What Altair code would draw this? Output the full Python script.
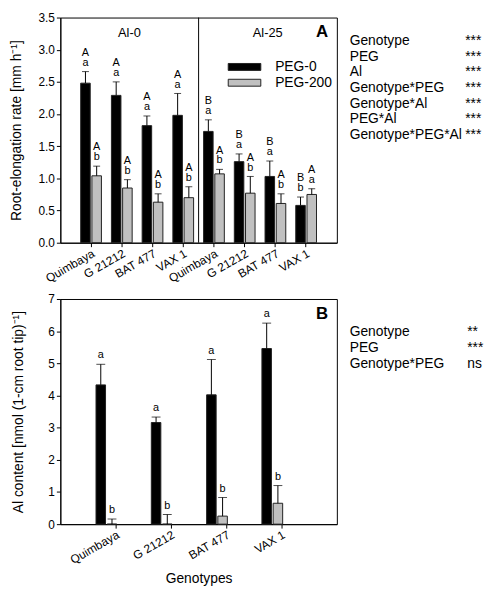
import altair as alt
import pandas as pd

FONT = "Liberation Sans"

genotypes = ["Quimbaya", "G 21212", "BAT 477", "VAX 1"]
al_levels = ["Al-0", "Al-25"]
peg_levels = ["PEG-0", "PEG-200"]

# ---- Panel A: root-elongation rate (mm h-1) ----
rer_al0_peg0 = [2.48, 2.29, 1.82, 1.98]
rer_al0_peg0_se = [0.18, 0.21, 0.15, 0.34]
rer_al0_peg200 = [1.04, 0.85, 0.63, 0.70]
rer_al0_peg200_se = [0.15, 0.13, 0.13, 0.17]
rer_al25_peg0 = [1.73, 1.26, 1.03, 0.58]
rer_al25_peg0_se = [0.18, 0.12, 0.24, 0.13]
rer_al25_peg200 = [1.07, 0.77, 0.61, 0.75]
rer_al25_peg200_se = [0.07, 0.26, 0.15, 0.09]

up_al0_peg0 = ["A", "A", "A", "A"]
up_al0_peg200 = ["A", "A", "A", "A"]
up_al25_peg0 = ["B", "B", "B", "B"]
up_al25_peg200 = ["A", "A", "A", "A"]
low_al0_peg0 = ["a", "a", "a", "a"]
low_al0_peg200 = ["b", "b", "b", "b"]
low_al25_peg0 = ["a", "a", "a", "b"]
low_al25_peg200 = ["b", "b", "b", "a"]

stats_a_terms = ["Genotype", "PEG", "Al", "Genotype*PEG", "Genotype*Al", "PEG*Al", "Genotype*PEG*Al"]
stats_a_sig = ["***", "***", "***", "***", "***", "***", "***"]

# ---- Panel B: Al content (nmol (1-cm root tip)-1) ----
alc_peg0 = [4.33, 3.16, 4.02, 5.46]
alc_peg0_se = [0.64, 0.17, 1.10, 0.79]
alc_peg200 = [0.0, 0.0, 0.25, 0.65]
alc_peg200_se = [0.16, 0.30, 0.58, 0.55]
letters_b_peg0 = ["a", "a", "a", "a"]
letters_b_peg200 = ["b", "b", "b", "b"]

stats_b_terms = ["Genotype", "PEG", "Genotype*PEG"]
stats_b_sig = ["**", "***", "ns"]

ticks_a = [0, 0.5, 1, 1.5, 2, 2.5, 3, 3.5]
ticks_b = [0, 1, 2, 3, 4, 5, 6, 7]

# ---- build tables ----
rows_a = []
series_a = [
    ("Al-0", "PEG-0", rer_al0_peg0, rer_al0_peg0_se, up_al0_peg0, low_al0_peg0),
    ("Al-0", "PEG-200", rer_al0_peg200, rer_al0_peg200_se, up_al0_peg200, low_al0_peg200),
    ("Al-25", "PEG-0", rer_al25_peg0, rer_al25_peg0_se, up_al25_peg0, low_al25_peg0),
    ("Al-25", "PEG-200", rer_al25_peg200, rer_al25_peg200_se, up_al25_peg200, low_al25_peg200),
]
for al, peg, vals, ses, ups, lows in series_a:
    for g, v, s, u, l in zip(genotypes, vals, ses, ups, lows):
        rows_a.append({"slot": f"{g}|{al}", "peg": peg, "value": v, "se": s, "up": u, "low": l})
df_a = pd.DataFrame(rows_a)
slot_order = [f"{g}|{al}" for al in al_levels for g in genotypes]

rows_b = []
for peg, vals, ses, lets in [("PEG-0", alc_peg0, alc_peg0_se, letters_b_peg0),
                             ("PEG-200", alc_peg200, alc_peg200_se, letters_b_peg200)]:
    for g, v, s, l in zip(genotypes, vals, ses, lets):
        rows_b.append({"geno": g, "peg": peg, "value": v, "se": s, "let": l})
df_b = pd.DataFrame(rows_b)

color_scale = alt.Scale(domain=peg_levels, range=["#000000", "#c0c0c0"])

W, H = 280, 228

# ---------------- Panel A ----------------
xA = alt.X("slot:N", sort=slot_order, title=None,
           scale=alt.Scale(paddingInner=0.325, paddingOuter=0.6625),
           axis=alt.Axis(labelExpr="split(datum.label, '|')[0]", labelAngle=330,
                         labelAlign="right", labelBaseline="top", labelPadding=1))
xoA = alt.XOffset("peg:N", sort=peg_levels, scale=alt.Scale(paddingInner=0.15))
axisA = alt.Axis(values=ticks_a, format=".1f", titlePadding=15, labelOverlap=False,
                 tickCount=8)
scaleA = alt.Scale(domain=[0, 3.5], nice=False)
titleA = "Root-elongation rate [mm h\u207b\u00b9]"
yA = alt.Y("value:Q", scale=scaleA, axis=axisA, title=titleA)
yAu = alt.Y("upper:Q", scale=scaleA, axis=axisA, title=titleA)

baseA = alt.Chart(df_a).transform_calculate(upper="datum.value + datum.se")

barsA = baseA.mark_bar(stroke="#222222", strokeWidth=1).encode(
    x=xA, xOffset=xoA, y=yA,
    color=alt.Color("peg:N", scale=color_scale, sort=peg_levels,
                    legend=alt.Legend(orient="none", legendX=170, legendY=43, title=None,
                                      symbolType="M-4.714,-1H4.714V1H-4.714Z", symbolSize=49,
                                      symbolOffset=9.5, labelOffset=24, labelFontSize=14,
                                      labelFont=FONT, labelColor="black", rowPadding=2, padding=0,
                                      symbolStrokeColor="#222222", symbolStrokeWidth=1)))
errA = baseA.mark_rule(color="black", strokeWidth=1).encode(
    x=xA, xOffset=xoA, y=yA, y2="upper:Q")
capA = baseA.mark_tick(color="black", size=7, thickness=1).encode(
    x=xA, xOffset=xoA, y=yAu)
lowA = baseA.mark_text(font=FONT, fontSize=11, dy=-9, baseline="middle", color="black").encode(
    x=xA, xOffset=xoA, y=yAu, text="low:N")
upA = baseA.mark_text(font=FONT, fontSize=11, dy=-19, baseline="middle", color="black").encode(
    x=xA, xOffset=xoA, y=yAu, text="up:N")

divider = alt.Chart(pd.DataFrame({"slot": [slot_order[4]]})).mark_rule(
    color="black", strokeWidth=1, xOffset=-5.05).encode(
    x=alt.X("slot:N", sort=slot_order, bandPosition=0))

lblA = alt.Chart(pd.DataFrame({"t": al_levels, "px": [70, 210]})).mark_text(
    font=FONT, fontSize=13, baseline="middle", color="black").encode(
    x=alt.X("px:Q", scale=None), y=alt.value(16), text="t:N")
tagA = alt.Chart(pd.DataFrame({"t": ["A"]})).mark_text(
    font=FONT, fontSize=17, fontWeight="bold", baseline="middle", color="black").encode(
    x=alt.value(265), y=alt.value(15), text="t:N")
statsA1 = alt.Chart(pd.DataFrame({"k": [0]})).mark_text(
    font=FONT, fontSize=14, align="left", baseline="middle", lineHeight=15.8, color="black",
    text=stats_a_terms).encode(x=alt.value(293), y=alt.value(24))
statsA2 = alt.Chart(pd.DataFrame({"k": [0]})).mark_text(
    font=FONT, fontSize=14, align="left", baseline="middle", lineHeight=15.8, color="black",
    text=stats_a_sig).encode(x=alt.value(410), y=alt.value(24))

panelA = alt.layer(barsA, errA, capA, lowA, upA, divider, lblA, tagA, statsA1, statsA2).properties(
    width=W, height=H)

# ---------------- Panel B ----------------
xB = alt.X("geno:N", sort=genotypes, title="Genotypes",
           scale=alt.Scale(paddingInner=0.29, paddingOuter=0.645),
           axis=alt.Axis(labelAngle=330, labelAlign="right", labelBaseline="top",
                         labelPadding=1, titlePadding=6))
xoB = alt.XOffset("peg:N", sort=peg_levels, scale=alt.Scale(paddingInner=0.12))
axisB = alt.Axis(values=ticks_b, format="d", titlePadding=23, labelOverlap=False, tickCount=8)
scaleB = alt.Scale(domain=[0, 7], nice=False)
titleB = "Al content [nmol (1-cm root tip)\u207b\u00b9]"
yB = alt.Y("value:Q", scale=scaleB, axis=axisB, title=titleB)
yBu = alt.Y("upper:Q", scale=scaleB, axis=axisB, title=titleB)

baseB = alt.Chart(df_b).transform_calculate(upper="datum.value + datum.se")
barsB = baseB.mark_bar(stroke="#222222", strokeWidth=1).encode(
    x=xB, xOffset=xoB, y=yB,
    color=alt.Color("peg:N", scale=color_scale, sort=peg_levels, legend=None))
errB = baseB.mark_rule(color="black", strokeWidth=1).encode(
    x=xB, xOffset=xoB, y=yB, y2="upper:Q")
capB = baseB.mark_tick(color="black", size=9, thickness=1).encode(
    x=xB, xOffset=xoB, y=yBu)
letB = baseB.mark_text(font=FONT, fontSize=11, dy=-9, baseline="middle", color="black").encode(
    x=xB, xOffset=xoB, y=yBu, text="let:N")
tagB = alt.Chart(pd.DataFrame({"t": ["B"]})).mark_text(
    font=FONT, fontSize=17, fontWeight="bold", baseline="middle", color="black").encode(
    x=alt.value(265), y=alt.value(15), text="t:N")
statsB1 = alt.Chart(pd.DataFrame({"k": [0]})).mark_text(
    font=FONT, fontSize=14, align="left", baseline="middle", lineHeight=16.5, color="black",
    text=stats_b_terms).encode(x=alt.value(293), y=alt.value(33))
statsB2 = alt.Chart(pd.DataFrame({"k": [0]})).mark_text(
    font=FONT, fontSize=14, align="left", baseline="middle", lineHeight=16.5, color="black",
    text=stats_b_sig).encode(x=alt.value(412), y=alt.value(33))

panelB = alt.layer(barsB, errB, capB, letB, tagB, statsB1, statsB2).properties(
    width=W, height=H)

chart = alt.vconcat(panelA, panelB, spacing=7).resolve_scale(color="shared").properties(
    padding={"left": 0, "top": -1, "right": 0, "bottom": 0}
).configure_view(stroke="black", strokeWidth=1).configure_axis(
    domainColor="black", tickColor="black", labelColor="black", titleColor="black",
    labelFont=FONT, titleFont=FONT, labelFontSize=12, titleFontSize=14,
    titleFontWeight="normal", grid=False, tickSize=4, domainWidth=1, tickWidth=1,
    labelOverlap=False
).configure_text(color="black")

chart.save("out.html", embed_options={"renderer": "svg", "actions": False})
